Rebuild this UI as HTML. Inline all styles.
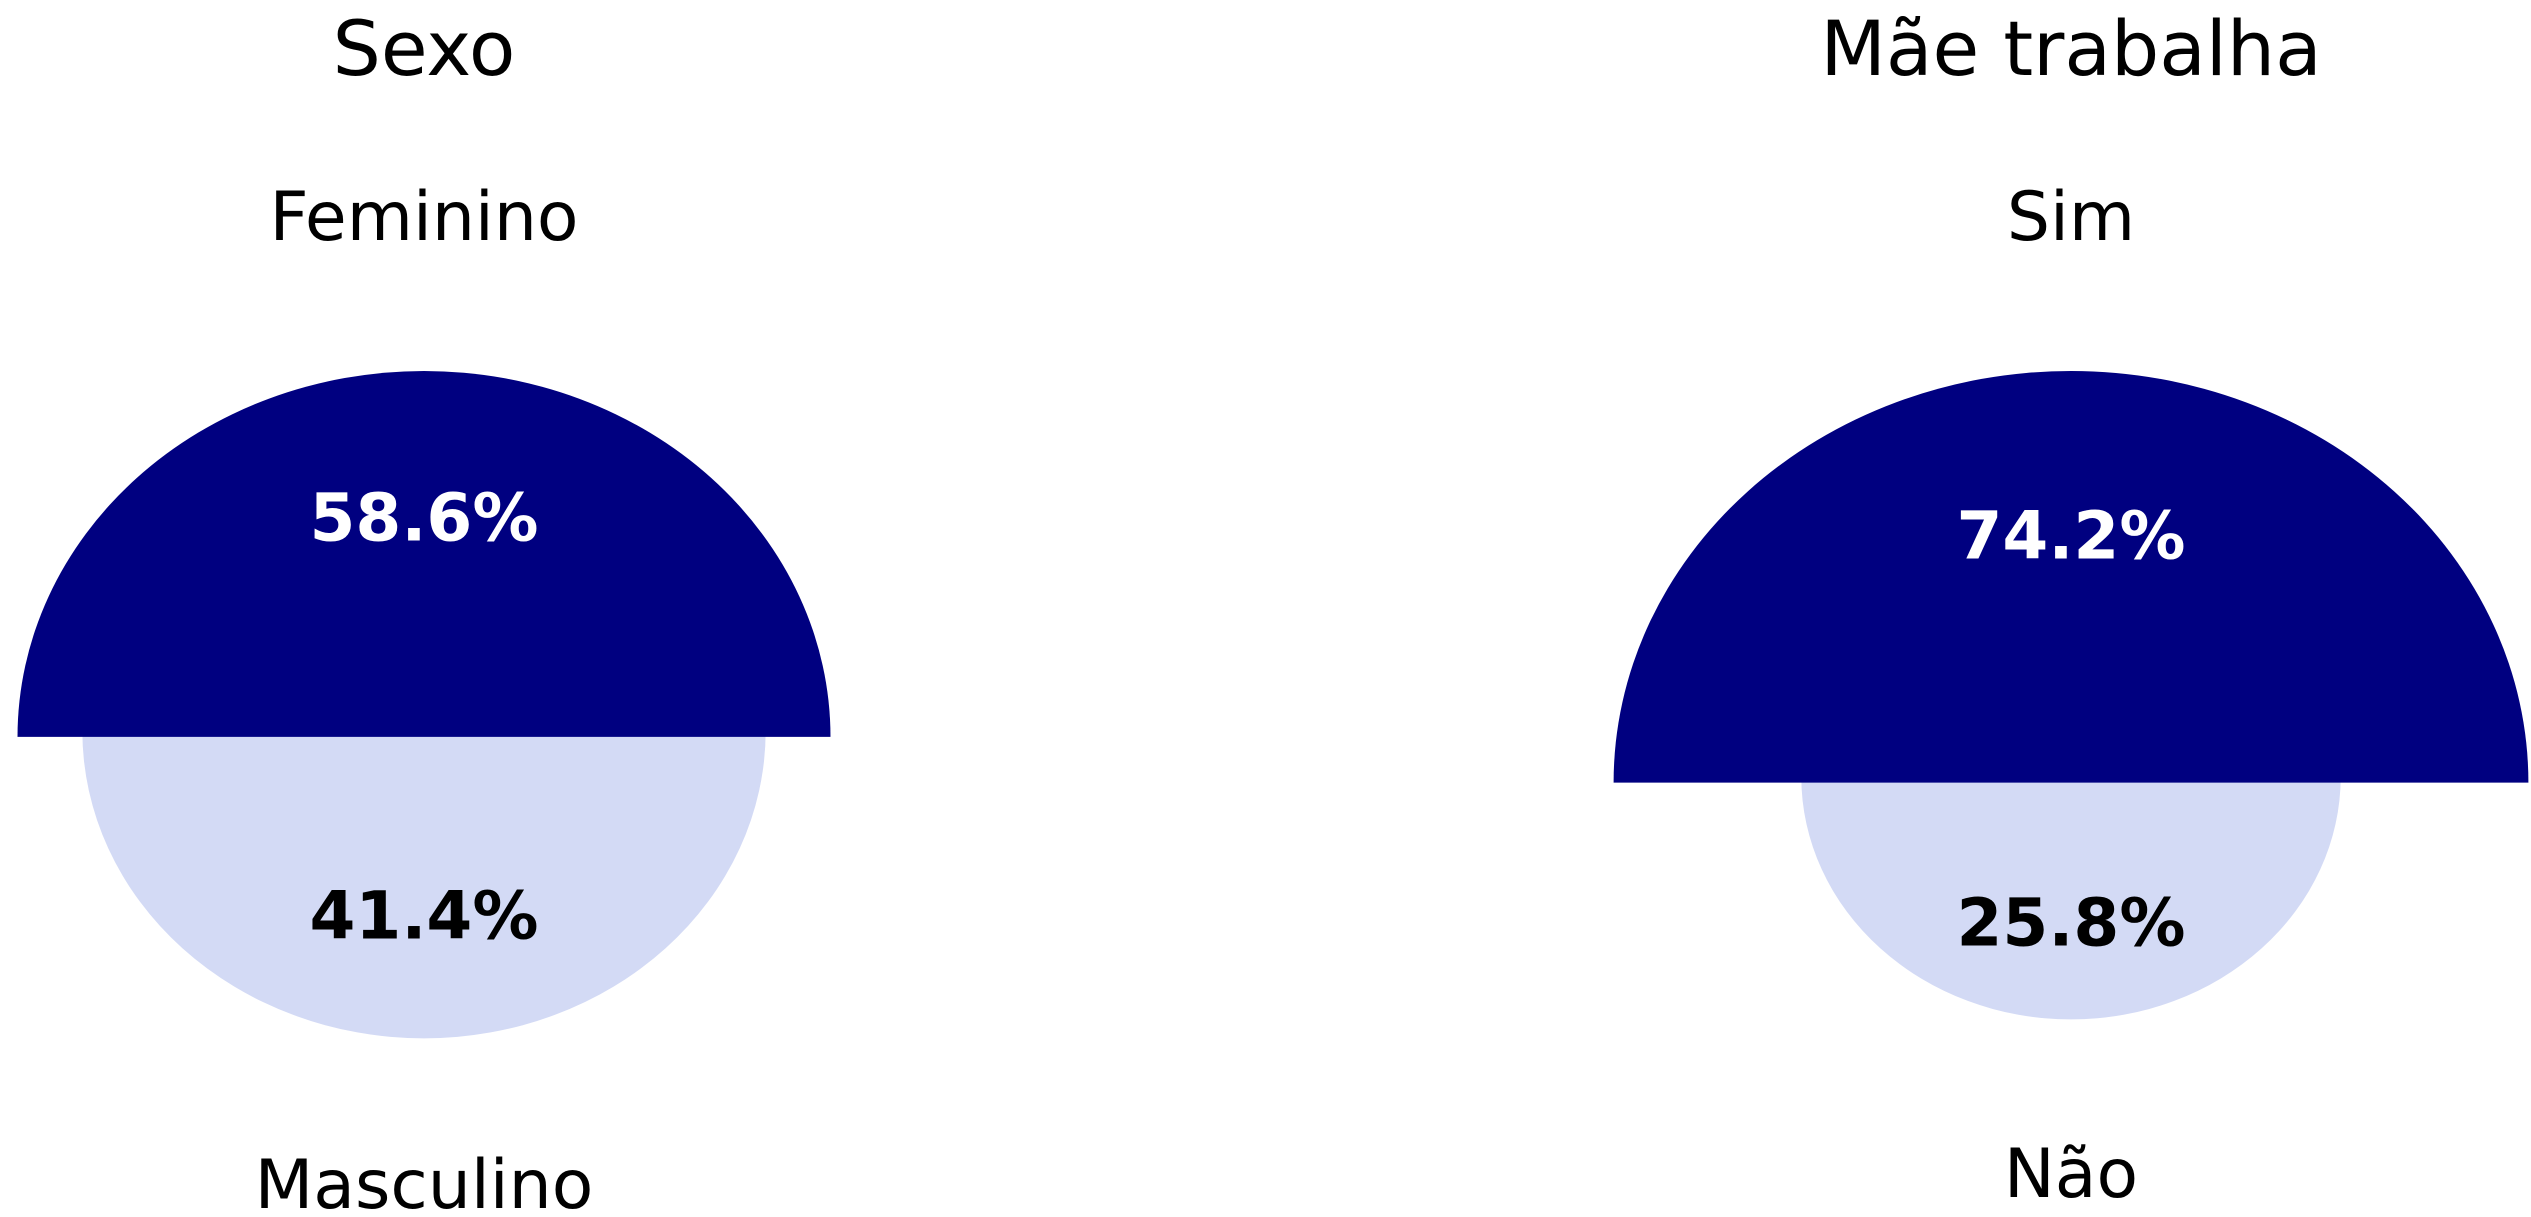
<!DOCTYPE html>
<html><head><meta charset="utf-8"><style>
html,body{margin:0;padding:0;background:#fff;}
svg{display:block;font-family:"DejaVu Sans","Liberation Sans",sans-serif;}
</style></head><body>
<svg id="chart" width="2531" height="1217" viewBox="0 0 2531 1217" xmlns="http://www.w3.org/2000/svg"></svg>
<script>
const titles = ["Sexo", "Mãe trabalha"];
const topLabels = ["Feminino", "Sim"];
const bottomLabels = ["Masculino", "Não"];
const topValues = [58.6, 74.2];
const bottomValues = [41.4, 25.8];

const NS = "http://www.w3.org/2000/svg";
const svg = document.getElementById("chart");
const centersX = [424, 2071];
const K = 53.1, ASPECT = 0.9, TOPY = 371, GAP = 6;
function rx(v){ return K*Math.sqrt(v); }
function mk(tag, attrs, parent){ const e=document.createElementNS(NS,tag); for(const k in attrs) e.setAttribute(k,attrs[k]); (parent||svg).appendChild(e); return e; }
function halfEllipse(cx, by, r, ry, up){
  const s = up ? 0 : 1;
  return `M${cx-r},${by} A${r},${ry} 0 0 ${up?1:0} ${cx+r},${by} Z`;
}
for(let i=0;i<titles.length;i++){
  const cx = centersX[i];
  const g = mk("g",{});
  
  
  const rT = rx(topValues[i]), ryT = rT*ASPECT;
  const rB = rx(bottomValues[i]), ryB = rB*ASPECT;
  const base = TOPY + ryT;
  const lb = base - GAP;
  const pb = mk("path",{d:halfEllipse(cx,lb,rB,ryB,false),fill:"#d3daf5"},g);
  
  
  const pt = mk("path",{d:halfEllipse(cx,base,rT,ryT,true),fill:"#000080"},g);
  
  
  const t = mk("text",{x:cx,y:75,"text-anchor":"middle","font-size":76,fill:"#000"},g);
  t.textContent = titles[i];
  
  
  const l1 = mk("text",{x:cx,y:240,"text-anchor":"middle","font-size":68,fill:"#000"},g);
  l1.textContent = topLabels[i];
  
  
  const l2 = mk("text",{x:cx,y:i===0?1208:1197,"text-anchor":"middle","font-size":68,fill:"#000"},g);
  l2.textContent = bottomLabels[i];
  
  
  const p1 = mk("text",{x:cx,y:base-0.6*ryT+23,"text-anchor":"middle","font-size":66,"font-weight":"bold",fill:"#fff"},g);
  p1.textContent = topValues[i].toFixed(1)+"%";
  
  
  const p2 = mk("text",{x:cx,y:lb+0.6*ryB+23,"text-anchor":"middle","font-size":66,"font-weight":"bold",fill:"#000"},g);
  p2.textContent = bottomValues[i].toFixed(1)+"%";
  
  
}
</script>
</body></html>
